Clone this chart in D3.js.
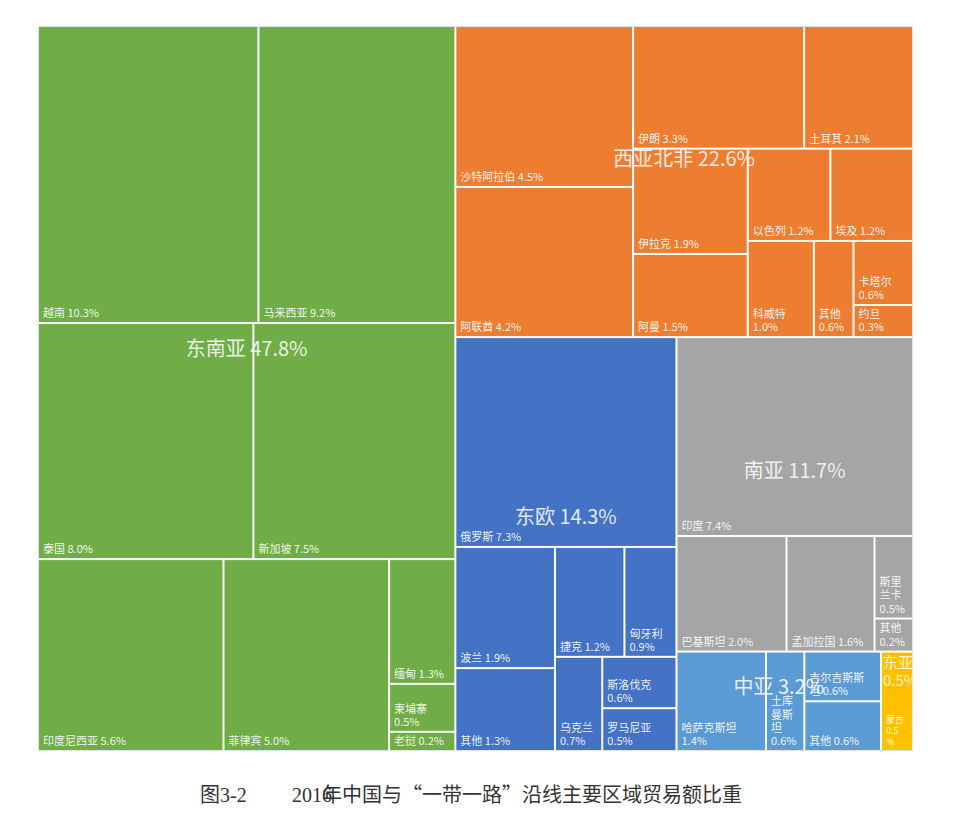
<!DOCTYPE html>
<html><head><meta charset="utf-8">
<script src="https://cdn.jsdelivr.net/npm/d3@7"></script>
<style>body{margin:0;background:#fff}</style>
</head><body>
<svg id="chart" width="953" height="821"></svg>
<script>
// ---- data ----
const regionNames = ["东南亚", "西亚北非", "东欧", "南亚", "中亚", "东亚"];
const regionShares = [47.8, 22.6, 14.3, 11.7, 3.2, 0.5];
const regionColors = ["#70AD47", "#ED7D31", "#4472C4", "#A5A5A5", "#5B9BD5", "#FFC000"];

const seAsiaNames = ["越南", "马来西亚", "泰国", "新加坡", "印度尼西亚", "菲律宾", "缅甸", "柬埔寨", "老挝"];
const seAsiaValues = [10.3, 9.2, 8.0, 7.5, 5.6, 5.0, 1.3, 0.5, 0.2];
const wAsiaNames = ["沙特阿拉伯", "阿联酋", "伊朗", "土耳其", "伊拉克", "阿曼", "以色列", "埃及", "科威特", "其他", "卡塔尔", "约旦"];
const wAsiaValues = [4.5, 4.2, 3.3, 2.1, 1.9, 1.5, 1.2, 1.2, 1.0, 0.6, 0.6, 0.3];
const eEuropeNames = ["俄罗斯", "波兰", "其他", "捷克", "匈牙利", "乌克兰", "斯洛伐克", "罗马尼亚"];
const eEuropeValues = [7.3, 1.9, 1.3, 1.2, 0.9, 0.7, 0.6, 0.5];
const sAsiaNames = ["印度", "巴基斯坦", "孟加拉国", "斯里兰卡", "其他"];
const sAsiaValues = [7.4, 2.0, 1.6, 0.5, 0.2];
const cAsiaNames = ["哈萨克斯坦", "土库曼斯坦", "吉尔吉斯斯坦", "其他"];
const cAsiaValues = [1.4, 0.6, 0.6, 0.6];
const eAsiaNames = ["蒙古"];
const eAsiaValues = [0.5];

const countryNames = [seAsiaNames, wAsiaNames, eEuropeNames, sAsiaNames, cAsiaNames, eAsiaNames];
const countryValues = [seAsiaValues, wAsiaValues, eEuropeValues, sAsiaValues, cAsiaValues, eAsiaValues];

// number of items per squarified strip (tiling structure)
const topStrips = [1, 1, 1, 1, 1, 1];
const regionStrips = [[2, 2, 1, 1, 1, 1, 1], [2, 2, 2, 2, 1, 1, 1, 1], [1, 2, 2, 1, 1, 1], [1, 1, 1, 1, 1], [1, 1, 1, 1], [1]];

const captionFig = "图3-2";
const captionYear = "2016";
const captionText = "年中国与“一带一路”沿线主要区域贸易额比重";

// ---- layout ----
const svg = d3.select("#chart");
const X0 = 39, Y0 = 27, TW = 873, TH = 723;
const FONT = '"Noto Sans CJK SC", "Noto Sans", sans-serif';

const root = d3.hierarchy({
  name: "root",
  children: regionNames.map((r, i) => ({
    name: r, share: regionShares[i], color: regionColors[i],
    children: countryNames[i].map((c, j) => ({ name: c, value: countryValues[i][j] }))
  }))
}).sum(d => d.value || 0);

function stripTile(parent, x0, y0, x1, y1) {
  const counts = parent.depth === 0 ? topStrips : regionStrips[regionNames.indexOf(parent.data.name)];
  const nodes = parent.children;
  let value = parent.value, i = 0;
  counts.forEach((c, k) => {
    const kids = nodes.slice(i, i + c);
    const row = { value: d3.sum(kids, d => d.value), children: kids };
    const dx = x1 - x0, dy = y1 - y0;
    const last = k === counts.length - 1;
    if (dx < dy) {
      const yy = last ? y1 : y0 + dy * row.value / value;
      d3.treemapDice(row, x0, y0, x1, yy); y0 = yy;
    } else {
      const xx = last ? x1 : x0 + dx * row.value / value;
      d3.treemapSlice(row, x0, y0, xx, y1); x0 = xx;
    }
    value -= row.value; i += c;
  });
}

d3.treemap().size([TW, TH]).paddingInner(2).tile(stripTile)(root);

const g = svg.append("g").attr("transform", `translate(${X0},${Y0})`);

// text measurement
const ctx = document.createElement("canvas").getContext("2d");
function measure(t, size) { ctx.font = `${size}px ${FONT}`; return ctx.measureText(t).width; }
function tokenize(s) {
  const toks = []; let buf = "";
  for (const ch of s) {
    if (ch === " ") { if (buf) { toks.push(buf); buf = ""; } toks.push(" "); }
    else if (/[\u3000-\u9fff]/.test(ch)) { if (buf) { toks.push(buf); buf = ""; } toks.push(ch); }
    else buf += ch;
  }
  if (buf) toks.push(buf);
  return toks;
}
function wrap(s, size, maxW) {
  const lines = []; let line = "";
  const fits = t => measure(t, size) <= maxW;
  for (const t of tokenize(s)) {
    if (t === " ") { if (line) line += " "; continue; }
    if (fits(line + t)) { line += t; continue; }
    if (line.trim()) { lines.push(line.trim()); line = ""; }
    if (fits(t)) { line = t; continue; }
    for (const ch of t) {
      if (!line || fits(line + ch)) line += ch;
      else { lines.push(line); line = ch; }
    }
  }
  if (line.trim()) lines.push(line.trim());
  return lines;
}

// leaves
const leaves = root.leaves();
g.selectAll("rect.leaf").data(leaves).join("rect")
  .attr("class", "leaf")
  .attr("x", d => d.x0).attr("y", d => d.y0)
  .attr("width", d => d.x1 - d.x0).attr("height", d => d.y1 - d.y0)
  .attr("fill", d => d.parent.data.color);

leaves.forEach(d => {
  const w = d.x1 - d.x0, h = d.y1 - d.y0;
  const label = `${d.data.name} ${d.data.value.toFixed(1)}%`;
  const sizes = w < 34 ? [9, 8] : [11, 9, 8];
  let lines, size, lh;
  for (size of sizes) {
    lines = wrap(label, size, w - 10);
    lh = size * 1.2;
    if (lines.length * lh + 3 <= h) break;
  }
  const t = g.append("text")
    .attr("font-family", FONT).attr("font-size", size)
    .attr("fill", "rgba(255,255,255,0.92)");
  lines.forEach((ln, i) => {
    t.append("tspan").attr("x", d.x0 + 4)
      .attr("y", d.y1 - 5 - (lines.length - 1 - i) * lh)
      .text(ln);
  });
});

// region labels
const defs = svg.append("defs");
root.children.forEach((r, i) => {
  const w = r.x1 - r.x0, h = r.y1 - r.y0;
  const label = `${r.data.name} ${r.data.share.toFixed(1)}%`;
  if (measure(label, 20) <= w - 10) {
    g.append("text")
      .attr("x", (r.x0 + r.x1) / 2).attr("y", r.y0 + h * 0.46 - 12)
      .attr("text-anchor", "middle").attr("dominant-baseline", "central")
      .attr("font-family", FONT).attr("font-size", 20)
      .attr("fill", "rgba(255,255,255,0.85)")
      .text(label);
  } else {
    const id = "clip" + i;
    defs.append("clipPath").attr("id", id).append("rect")
      .attr("x", r.x0).attr("y", r.y0).attr("width", w).attr("height", h);
    const t = g.append("text").attr("clip-path", `url(#${id})`)
      .attr("font-family", FONT).attr("font-size", 15)
      .attr("fill", "rgba(255,255,255,0.85)");
    label.split(" ").forEach((ln, k) => {
      t.append("tspan").attr("x", r.x0 + 1).attr("y", r.y0 + 15 + k * 18).text(ln);
    });
  }
});

// outer faint frame
g.append("rect").attr("x", -0.5).attr("y", -0.5).attr("width", TW + 1).attr("height", TH + 1)
  .attr("fill", "none").attr("stroke", "#e4e4e4").attr("stroke-width", 1);

// caption
svg.append("text").attr("x", 200).attr("y", 802)
  .attr("font-family", '"Liberation Serif", "Noto Sans CJK SC", serif').attr("font-size", 20)
  .attr("fill", "#333").text(captionFig);
const cap = svg.append("text").attr("x", 292).attr("y", 802)
  .attr("font-size", 20).attr("fill", "#333");
cap.append("tspan").attr("font-family", '"Liberation Serif", serif').text(captionYear);
cap.append("tspan").attr("dx", -10).attr("font-family", '"Noto Sans CJK SC", sans-serif').text(captionText);
</script>
</body></html>
